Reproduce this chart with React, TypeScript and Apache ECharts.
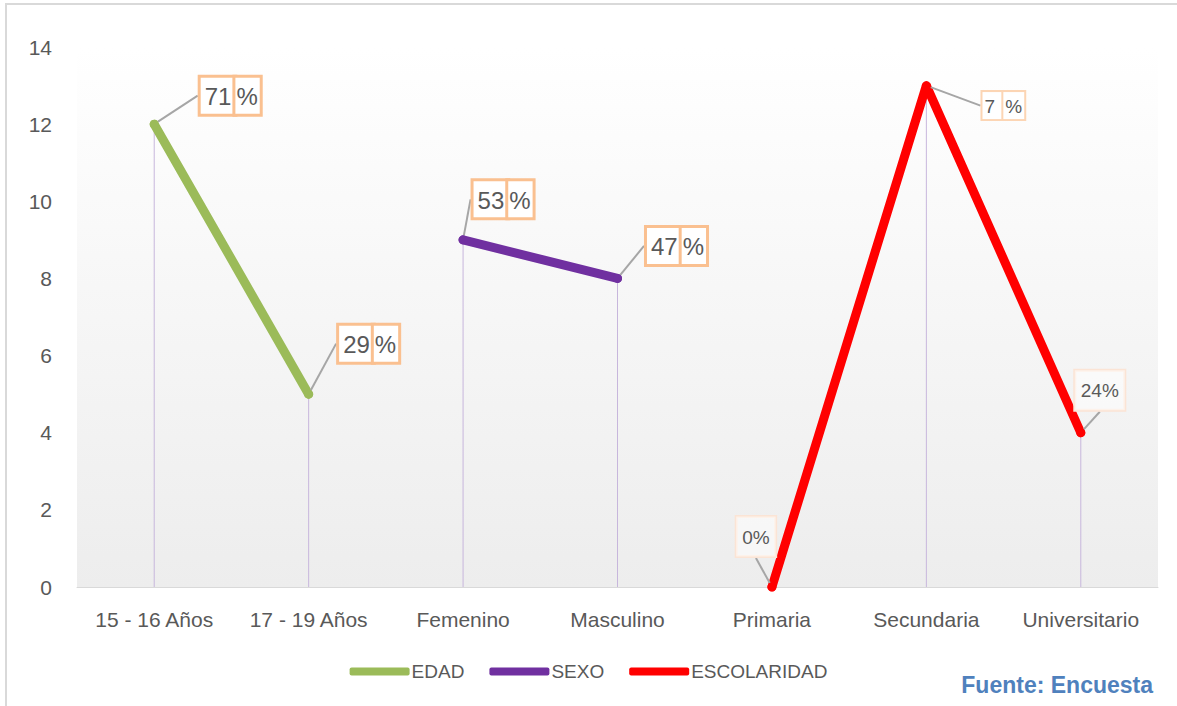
import React, { useEffect, useRef } from "react";
import * as echarts from "echarts";

const categories = ["15 - 16 Años", "17 - 19 Años", "Femenino", "Masculino", "Primaria", "Secundaria", "Universitario"];
const edadValues = [12, 5, null, null, null, null, null];
const sexoValues = [null, null, 9, 8, null, null, null];
const escolaridadValues = [null, null, null, null, 0, 13, 4];
const dropValues = [12, 5, 9, 8, 0, 13, 4];
const pctNumbers = ["71", "29", "53", "47", "0", "7 ", "24"];
const yTicks = [0, 2, 4, 6, 8, 10, 12, 14];

// label placement (dx, dy) per category
const labelOffsets: [number, number][] = [
  [76, -6],
  [60, -28],
  [40, -18],
  [59, -10],
  [-16, -26],
  [77, 38],
  [19, -18],
];
const bigLabel = [true, true, true, true, false, false, false];

export default function App() {
  const ref = useRef<HTMLDivElement>(null);
  useEffect(() => {
    document.body.style.margin = "0";
    const chart = echarts.init(ref.current!, undefined, { renderer: "svg" });
    const font = "'Liberation Sans', Arial, sans-serif";

    const mkData = (vals: (number | null)[]) =>
      vals.map((v, i) => {
        if (v === null) return null;
        const big = bigLabel[i];
        const small7 = i === 5;
        const boxA = big
          ? { fontSize: 24, color: "#595959", fontFamily: font, borderColor: "#fac090", borderWidth: 3, padding: [7, 3, 5, 4], backgroundColor: "#fff" }
          : small7
          ? { fontSize: 19, color: "#595959", fontFamily: font, borderColor: "#fcd5b4", borderWidth: 2, padding: [5, 2, 3, 2], backgroundColor: "#fff" }
          : { fontSize: 19, color: "#595959", fontFamily: font, borderColor: "#fbe4d5", borderWidth: 1.5, padding: [11, 6, 10, 6], backgroundColor: "rgba(255,255,255,0.5)" };
        const boxB = big ? { ...boxA, padding: [7, 2, 5, 1] } : boxA;
        const text = big || small7 ? `{a|${pctNumbers[i]}}{g| }{b|%}` : `{c|${pctNumbers[i]}%}`;
        return {
          value: v,
          label: {
            show: true,
            formatter: text,
            rich: {
              a: boxA,
              b: boxB,
              c: boxA,
              g: { fontSize: 4, width: 1 },
            },
          },
        };
      });

    const lineSeries = (name: string, color: string, vals: (number | null)[]) => ({
      type: "line",
      name,
      data: mkData(vals),
      symbol: "circle",
      symbolSize: 9,
      itemStyle: { color },
      lineStyle: { color, width: 9, cap: "round" },
      connectNulls: false,
      z: 5,
      label: { show: true, position: "top", distance: 0 },
      labelLine: { show: true, lineStyle: { color: "#a6a6a6", width: 2 } },
      labelLayout: (p: any) => ({ dx: labelOffsets[p.dataIndex][0], dy: labelOffsets[p.dataIndex][1] }),
    });

    chart.setOption({
      animation: false,
      backgroundColor: "#fff",
      grid: {
        left: 77,
        right: 19,
        top: 47,
        bottom: 119,
        show: true,
        borderWidth: 0,
        backgroundColor: new echarts.graphic.LinearGradient(0, 0, 0, 1, [
          { offset: 0, color: "#ffffff" },
          { offset: 1, color: "#ededed" },
        ]),
      },
      xAxis: {
        type: "category",
        data: categories,
        boundaryGap: true,
        axisLine: { lineStyle: { color: "#d9d9d9", width: 1 } },
        axisTick: { show: false },
        axisLabel: { color: "#595959", fontSize: 21, fontFamily: font, margin: 22, interval: 0 },
      },
      yAxis: {
        type: "value",
        min: yTicks[0],
        max: yTicks[yTicks.length - 1],
        interval: 2,
        splitLine: { show: false },
        axisLine: { show: false },
        axisTick: { show: false },
        axisLabel: { color: "#595959", fontSize: 21, fontFamily: font, margin: 25 },
      },
      legend: {
        data: ["EDAD", "SEXO", "ESCOLARIDAD"],
        bottom: 20,
        left: "center",
        icon: "roundRect",
        itemWidth: 60,
        itemHeight: 8,
        itemGap: 25,
        textStyle: { color: "#595959", fontSize: 19, fontFamily: font, padding: [12, 0, 0, -3] },
      },
      graphic: [
        {
          type: "rect",
          shape: { x: 6, y: 4, width: 1200, height: 740 },
          style: { fill: "none", stroke: "#d9d9d9", lineWidth: 2 },
          silent: true,
        },
        {
          type: "text",
          right: 24,
          bottom: 10,
          style: { text: "Fuente: Encuesta", fill: "#4f81bd", font: `bold 23px ${font}` },
        },
      ],
      series: [
        {
          type: "bar",
          name: "drop",
          data: dropValues,
          barWidth: 1,
          itemStyle: { color: "#c7b6dc" },
          silent: true,
          z: 1,
        },
        lineSeries("EDAD", "#9bbb59", edadValues),
        lineSeries("SEXO", "#7030a0", sexoValues),
        lineSeries("ESCOLARIDAD", "#ff0000", escolaridadValues),
      ],
    });
    return () => chart.dispose();
  }, []);
  return <div ref={ref} style={{ width: 1177, height: 706 }} />;
}
